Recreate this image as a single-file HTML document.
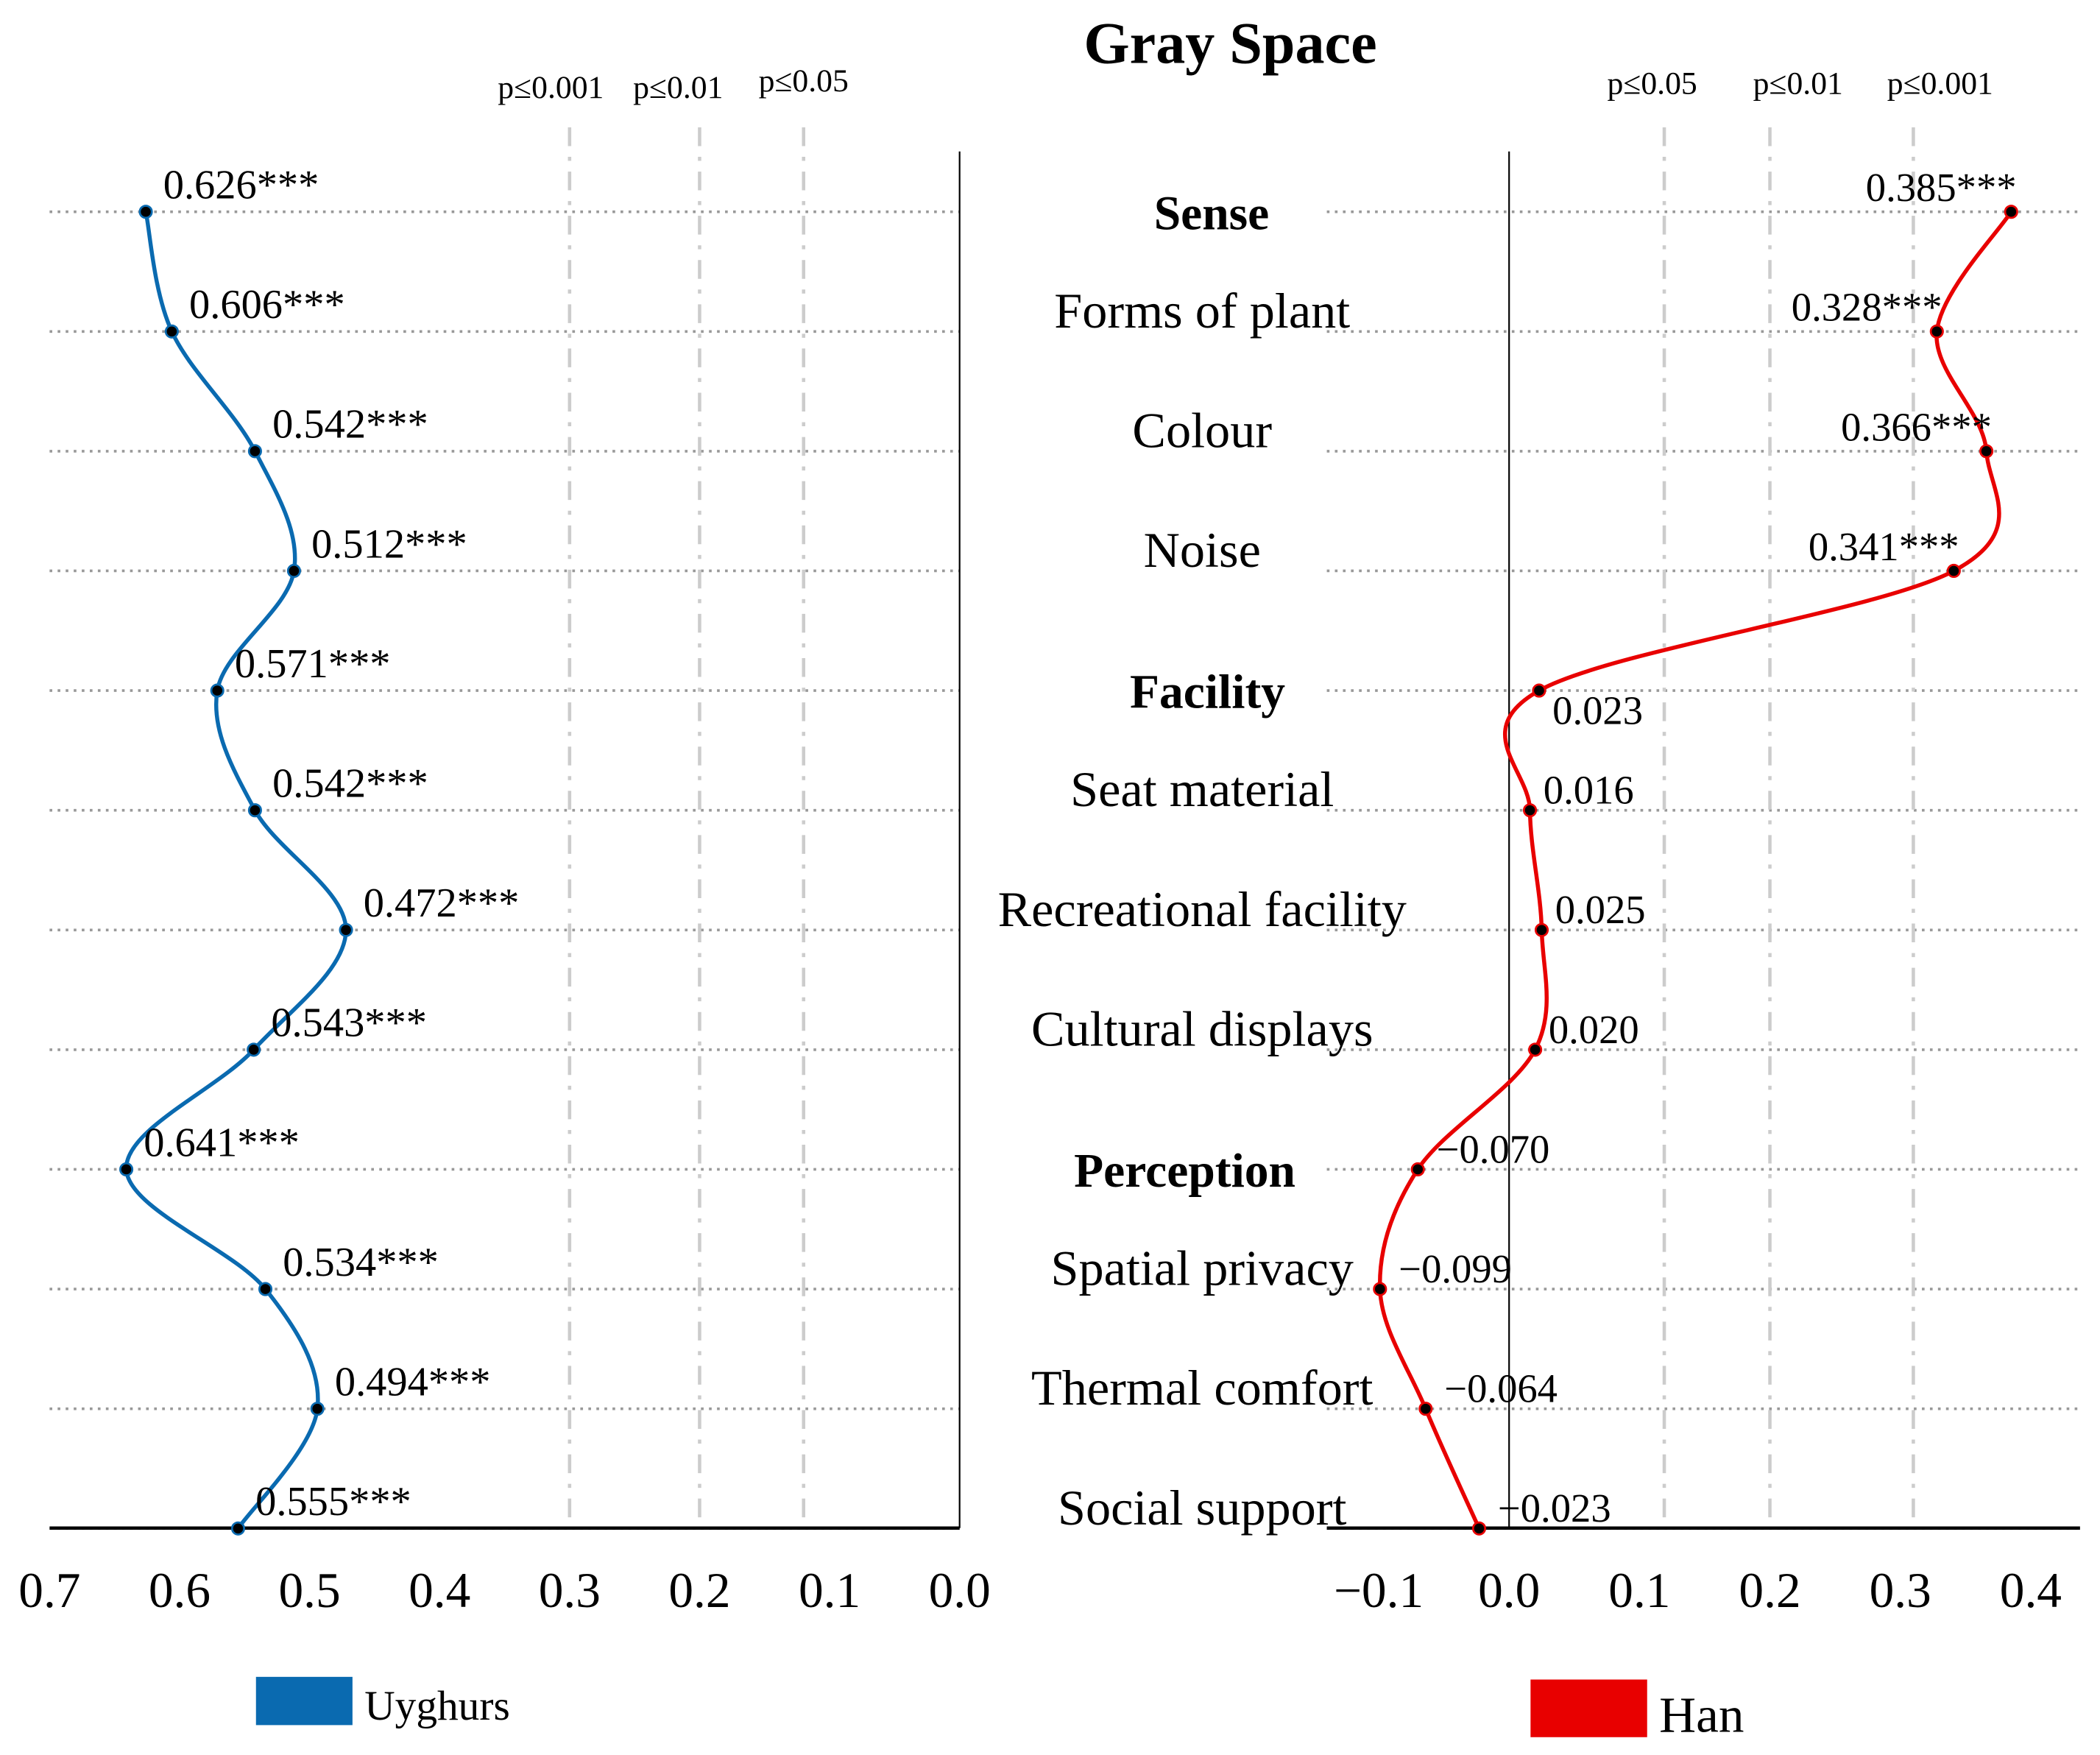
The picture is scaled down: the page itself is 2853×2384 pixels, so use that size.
<!DOCTYPE html>
<html><head><meta charset="utf-8"><style>html,body{margin:0;padding:0;background:#fff}svg{display:block}</style></head>
<body>
<svg id="chart" width="2853" height="2384" viewBox="0 0 1566.9 1309.3" preserveAspectRatio="none" xmlns="http://www.w3.org/2000/svg" font-family="'Liberation Serif', serif">
<text x="918" y="47" font-size="44" font-weight="bold" text-anchor="middle">Gray Space</text>
<g id="g"></g>
</svg>
<script>
const categories=["Sense","Forms of plant","Colour","Noise","Facility","Seat material","Recreational facility","Cultural displays","Perception","Spatial privacy","Thermal comfort","Social support"];
const boldCats=[true,false,false,false,true,false,false,false,true,false,false,false];
const uyghurValues=[0.626,0.606,0.542,0.512,0.571,0.542,0.472,0.543,0.641,0.534,0.494,0.555];
const uyghurLabels=["0.626***","0.606***","0.542***","0.512***","0.571***","0.542***","0.472***","0.543***","0.641***","0.534***","0.494***","0.555***"];
const hanValues=[0.385,0.328,0.366,0.341,0.023,0.016,0.025,0.020,-0.070,-0.099,-0.064,-0.023];
const hanLabels=["0.385***","0.328***","0.366***","0.341***","0.023","0.016","0.025","0.020","\u22120.070","\u22120.099","\u22120.064","\u22120.023"];
const leftTicks=[0.7,0.6,0.5,0.4,0.3,0.2,0.1,0.0];
const rightTicks=[-0.1,0.0,0.1,0.2,0.3,0.4];
const leftSig=[0.3,0.2,0.12];const leftSigLabels=["p\u22640.001","p\u22640.01","p\u22640.05"];
const rightSig=[0.119,0.2,0.31];const rightSigLabels=["p\u22640.05","p\u22640.01","p\u22640.001"];

const NS="http://www.w3.org/2000/svg";const g=document.getElementById('g');
function mk(t,a,txt){const e=document.createElementNS(NS,t);for(const k in a)e.setAttribute(k,a[k]);if(txt!==undefined)e.textContent=txt;g.appendChild(e);return e;}
const xL=v=>716-v*970, xR=v=>1126+v*973, yR=i=>158+i*89.3;
const yBot=1140;
categories.forEach((c,i)=>{
 let l=mk('line',{x1:37,x2:716,y1:yR(i),y2:yR(i),stroke:'#999','stroke-width':2,'stroke-dasharray':'2,4'});
 
 l=mk('line',{x1:990,x2:1552,y1:yR(i),y2:yR(i),stroke:'#999','stroke-width':2,'stroke-dasharray':'2,4'});
 
 const cx=boldCats[i]?(i==8?884:(i==4?901:904)):897;
 const cy=boldCats[i]?yR(i)+13:yR(i)-3;
 const t=mk('text',{x:cx,y:cy,'font-size':boldCats[i]?36:37.5,'text-anchor':'middle','font-weight':boldCats[i]?'bold':'normal'},c);
 
});
leftSig.forEach((v,i)=>{
 const l=mk('line',{x1:xL(v),x2:xL(v),y1:95,y2:yBot,stroke:'#ccc','stroke-width':2.5,'stroke-dasharray':'14,8,3,8'});
 
 const t=mk('text',{x:xL(v)-(i==0?14:(i==1?16:0)),y:[73,73,68][i],'font-size':24,'text-anchor':'middle'},leftSigLabels[i]);
 
});
rightSig.forEach((v,i)=>{
 const l=mk('line',{x1:xR(v),x2:xR(v),y1:95,y2:yBot,stroke:'#ccc','stroke-width':2.5,'stroke-dasharray':'14,8,3,8'});
 
 const t=mk('text',{x:xR(v)-(i==0?9:(i==1?-21:-20)),y:70,'font-size':24,'text-anchor':'middle'},rightSigLabels[i]);
 
});
[[716,113,716,yBot,1.2],[1126,113,1126,yBot,1.2],[37,yBot,716,yBot,2.5],[990,yBot,1552,yBot,2.5]].forEach(a=>{
 const l=mk('line',{x1:a[0],y1:a[1],x2:a[2],y2:a[3],stroke:'#000','stroke-width':a[4]});
 
});
leftTicks.forEach(v=>{const t=mk('text',{x:xL(v),y:1199,'font-size':37,'text-anchor':'middle'},v.toFixed(1));
 });
rightTicks.forEach(v=>{const t=mk('text',{x:xR(v),y:1199,'font-size':37,'text-anchor':'middle'},(v<0?'\u2212':'')+Math.abs(v).toFixed(1));
 });
function spline(pts){let d=`M${pts[0][0]},${pts[0][1]}`;for(let i=0;i<pts.length-1;i++){const p0=pts[Math.max(0,i-1)],p1=pts[i],p2=pts[i+1],p3=pts[Math.min(pts.length-1,i+2)];
 d+=` C${p1[0]+(p2[0]-p0[0])/6},${p1[1]+(p2[1]-p0[1])/6} ${p2[0]-(p3[0]-p1[0])/6},${p2[1]-(p3[1]-p1[1])/6} ${p2[0]},${p2[1]}`;}return d;}
function series(vals,xf,color,name){
 const pts=vals.map((v,i)=>[xf(v),yR(i)]);
 const p=mk('path',{d:spline(pts),fill:'none',stroke:color,'stroke-width':3});
 
 pts.forEach(q=>{const c=mk('circle',{cx:q[0],cy:q[1],r:4.5,fill:'#000',stroke:color,'stroke-width':1.5});
  });
 return pts;
}
const up=series(uyghurValues,xL,'#0a6ab0','uyghurs');
up.forEach((q,i)=>{const t=mk('text',{x:q[0]+13,y:q[1]-10,'font-size':31},uyghurLabels[i]);
 });
const hp=series(hanValues,xR,'#e80000','han');
hp.forEach((q,i)=>{let a;
 if(hanValues[i]>0.1)a={x:q[0]+4,y:q[1]-8,'text-anchor':'end'};
 else if(i==4)a={x:q[0]+10,y:q[1]+25};
 else a={x:q[0]+(hanValues[i]<0?14:10),y:q[1]-5};
 a['font-size']=30;const t=mk('text',a,hanLabels[i]);
 });
let r=mk('rect',{x:191,y:1251,width:72,height:36,fill:'#0a6ab0'});
let t=mk('text',{x:272,y:1283,'font-size':31.5},'Uyghurs');
r=mk('rect',{x:1142,y:1253,width:87,height:43,fill:'#e80000'});
t=mk('text',{x:1238,y:1292,'font-size':38},'Han');
</script>
</body></html>
